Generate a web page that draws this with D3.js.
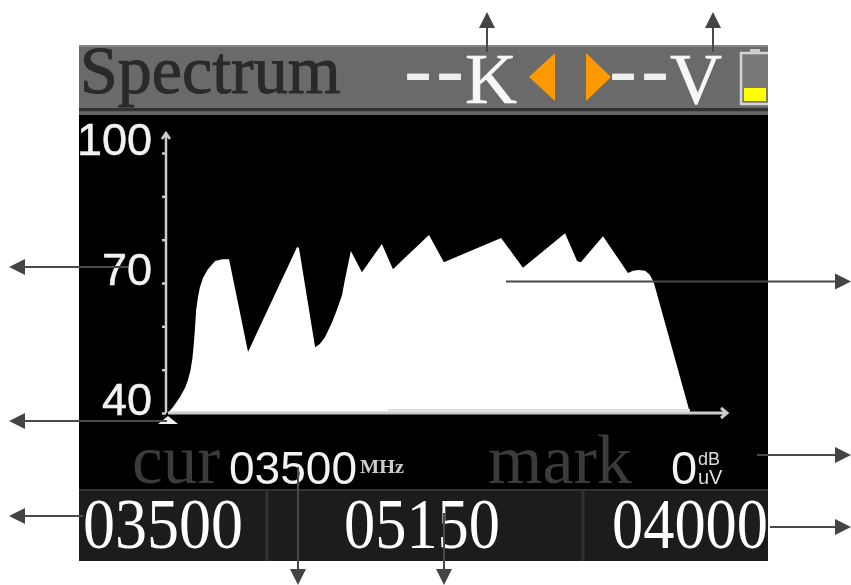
<!DOCTYPE html>
<html>
<head>
<meta charset="utf-8">
<script src="https://cdn.jsdelivr.net/npm/d3@7"></script>
<style>
 html,body{margin:0;padding:0;background:#fff;}
 svg{display:block;}
 .serif{font-family:"Liberation Serif",serif;}
 .sans{font-family:"Liberation Sans",sans-serif;}
</style>
</head>
<body>
<div id="svg"></div>
<script>
// spectrum trace, MHz / dBuV
var freqs = [3500,3516,3538,3554,3563,3571,3577,3581,3585,3589,3595,3601,3611,3626,3649,3671,3693,3753,3908,3914,3965,3980,3996,4018,4034,4050,4059,4078,4113,4176,4211,4325,4372,4553,4622,4755,4793,4805,4875,4954,4970,4986,5008,5023,5036,5150];
var levels = [40,41.4,43.7,45.8,47.6,49.8,52.5,55.5,59.2,63.8,66.8,69.1,71.2,73.2,75.1,75.5,75.5,54.1,78.3,78.1,55.2,55.9,57.5,60.8,63.8,67.2,70.7,77.4,72.5,79,73.2,81.1,74.8,80.4,73.5,81.5,75.1,74.8,80.8,72.3,72.8,73,72.8,71.9,70,40];
var yTicks = [40,50,60,70,80,90,100];
var yLabels = [40,70,100];
var footerLabels = ["03500","05150","04000"];

var width = 851, height = 585;
var svg = d3.select('#svg').append('svg').attr('width', width).attr('height', height);

var defs = svg.append('defs');
defs.append('clipPath').attr('id','screenClip').append('rect')
    .attr('x',79).attr('y',45).attr('width',689).attr('height',516);
defs.append('filter').attr('id','soft').attr('x','-2%').attr('y','-2%').attr('width','104%').attr('height','104%')
    .append('feGaussianBlur').attr('stdDeviation',0.7);

var screen = svg.append('g').attr('clip-path','url(#screenClip)').append('g').attr('filter','url(#soft)');

// background bands
function band(y, h, color){
  screen.append('rect').attr('x',70).attr('y',y).attr('width',710).attr('height',h).attr('fill',color);
}
band(45,70,'#6b6b6b');
band(45,2,'#858585');
band(108,3.5,'#333');
band(111.5,3.5,'#666');
band(115,374,'#000');
band(489,80,'#1c1c1c');
band(489,2,'#333');

// header
screen.append('text').attr('class','serif').attr('x',80).attr('y',93)
    .attr('font-size',68).attr('fill','#2a2a2a').attr('stroke','#2a2a2a').attr('stroke-width',1).text('Spectrum');

function header(dashX, letter, letterX){
  screen.append('text').attr('class','serif').attr('x',dashX).attr('y',97)
      .attr('font-size',84).attr('letter-spacing',4).attr('fill','#eee').text('--');
  screen.append('text').attr('class','serif').attr('x',letterX).attr('y',103)
      .attr('font-size',72).attr('fill','#f8f8f8').attr('stroke','#f8f8f8').attr('stroke-width',0.6).text(letter);
}
header(404, 'K', 465);
header(609, 'V', 670);

screen.append('path').attr('d','M529,77L555,53V101Z').attr('fill','#f90');
screen.append('path').attr('d','M586,53L611,77L586,101Z').attr('fill','#f90');

// battery
screen.append('rect').attr('x',741).attr('y',53).attr('width',30).attr('height',51)
    .attr('fill','#787878').attr('stroke','#d4d4d4').attr('stroke-width',2.5);
screen.append('rect').attr('x',750).attr('y',49).attr('width',10).attr('height',4).attr('fill','#ccc');
screen.append('rect').attr('x',744).attr('y',88).attr('width',22).attr('height',13).attr('fill','#ff0');

// plot
var x = d3.scaleLinear().domain([3500,5150]).range([168,690]);
var y = d3.scaleLinear().domain([40,100]).range([413,153]);

var area = d3.area()
    .x(function(d,i){ return x(freqs[i]); })
    .y0(y(40))
    .y1(function(d){ return y(d); })
    .curve(d3.curveLinear);
screen.append('path').datum(levels).attr('d',area).attr('fill','#fff');

var yAxis = d3.axisLeft(y).tickValues(yTicks).tickSize(4).tickPadding(10)
    .tickFormat(function(d){ return yLabels.indexOf(d)>=0 ? d : ''; });
var yg = screen.append('g').attr('transform','translate(166,0)').call(yAxis);
yg.select('.domain').remove();
yg.selectAll('.tick line').attr('stroke','#ccc').attr('stroke-width',2.5);
yg.selectAll('.tick text').attr('font-size',45).attr('fill','#f2f2f2').attr('dy','1px')
    .attr('stroke','#f2f2f2').attr('stroke-width',0.5)
    .attr('font-family','"Liberation Sans",sans-serif');

// axis lines with little arrows
screen.append('path').attr('d','M166,413V133M162,139L166,133L170,139')
    .attr('fill','none').attr('stroke','#ccc').attr('stroke-width',2.5);
screen.append('line').attr('x1',388).attr('x2',x(5150)).attr('y1',410).attr('y2',410)
    .attr('stroke','#ddd').attr('stroke-width',2);
screen.append('path').attr('d','M168,413H726M721,408L727,413L721,418')
    .attr('fill','none').attr('stroke','#ccc').attr('stroke-width',3);

// marker under the start of the trace
screen.append('path').attr('d','M'+x(3500)+',416l10,8h-20Z').attr('fill','#eee');

// status row
screen.append('text').attr('class','serif').attr('x',132).attr('y',483).attr('font-size',69).attr('fill','#3a3a3a').text('cur');
screen.append('text').attr('class','serif').attr('x',488).attr('y',483).attr('font-size',70).attr('fill','#3a3a3a').text('mark');
screen.append('text').attr('class','sans').attr('x',229).attr('y',484).attr('font-size',47).attr('fill','#f2f2f2')
    .attr('textLength',128).attr('lengthAdjust','spacingAndGlyphs').text('03500');
screen.append('text').attr('class','serif').attr('x',360).attr('y',473).attr('font-size',18).attr('font-weight','bold').attr('fill','#ccc')
    .attr('textLength',44).attr('lengthAdjust','spacingAndGlyphs').text('MHz');
screen.append('text').attr('class','sans').attr('x',671).attr('y',484).attr('font-size',47).attr('fill','#f2f2f2').text('0');
screen.append('text').attr('class','sans').attr('x',698).attr('y',465).attr('font-size',18).attr('fill','#ddd').text('dB');
screen.append('text').attr('class','sans').attr('x',698).attr('y',484).attr('font-size',20).attr('fill','#ddd').text('uV');

// footer
screen.selectAll('line.divider').data([267,583]).enter().append('line').attr('class','divider')
    .attr('x1',function(d){return d;}).attr('x2',function(d){return d;}).attr('y1',491).attr('y2',561)
    .attr('stroke','#333').attr('stroke-width',3);
var footerX = [83,344,612], footerW = [160,156,156];
screen.selectAll('text.foot').data(footerLabels).enter().append('text').attr('class','serif foot')
    .attr('x',function(d,i){return footerX[i];}).attr('y',548)
    .attr('font-size',71).attr('fill','#fff')
    .attr('textLength',function(d,i){return footerW[i];}).attr('lengthAdjust','spacingAndGlyphs')
    .text(function(d){return d;});

// annotation arrows around the screen
function arrow(x1, y1, x2, y2){
  var a = Math.atan2(y2-y1, x2-x1), L = 16, H = 8;
  var bx = x2-L*Math.cos(a), by = y2-L*Math.sin(a);
  svg.append('line').attr('x1',x1).attr('y1',y1).attr('x2',bx).attr('y2',by)
     .attr('stroke','#4a4a4a').attr('stroke-width',2);
  svg.append('path').attr('fill','#444')
     .attr('d','M'+x2+','+y2+'L'+(bx-H*Math.sin(a))+','+(by+H*Math.cos(a))+'L'+(bx+H*Math.sin(a))+','+(by-H*Math.cos(a))+'Z');
}
arrow(487,52,487,12);
arrow(713,52,713,12);
arrow(128,267,9,267);
arrow(167,421,9,421);
arrow(83,516,9,516);
arrow(298,467,298,585);
arrow(444,513,444,585);
arrow(506,281.5,851,281.5);
arrow(757,455,851,455);
arrow(770,527,851,527);
</script>
</body>
</html>
